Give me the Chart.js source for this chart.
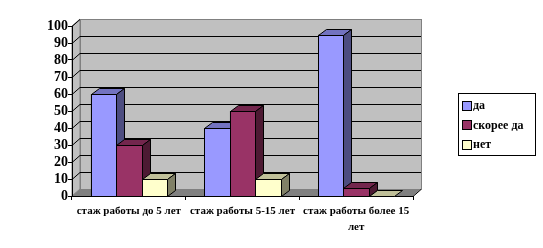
<!DOCTYPE html>
<html>
<head>
<meta charset="utf-8">
<script src="https://cdn.jsdelivr.net/npm/chart.js@4/dist/chart.umd.min.js"></script>
<style>
html,body{margin:0;padding:0;background:#fff;}
#wrap{width:543px;height:248px;position:relative;}
</style>
</head>
<body>
<div id="wrap"><canvas id="c" width="543" height="248"></canvas></div>
<script>
const categories = ['стаж работы до 5 лет', 'стаж работы 5-15 лет', ['стаж работы более 15', 'лет']];
const seriesNames = ['да', 'скорее да', 'нет'];
const valuesDa = [60, 40, 95];
const valuesSkoreeDa = [30, 50, 5];
const valuesNet = [10, 10, 0];
const yTicks = [0, 10, 20, 30, 40, 50, 60, 70, 80, 90, 100];

const fronts = ['#9999FF', '#993366', '#FFFFCC'];
const tops = ['#7373C0', '#73264D', '#C0C099'];
const sides = ['#4D4D80', '#4D1A33', '#808066'];

const FONT = "'Liberation Serif', 'Times New Roman', serif";
const WALL_DX = 8, WALL_DY = 7, BAR_DX = 8, BAR_DY = 6;

const threeD = {
  id: 'threeD',
  beforeDraw(chart) {
    const ctx = chart.ctx, ca = chart.chartArea, ys = chart.scales.y;
    const L = ca.left, R = ca.right, T = ca.top, B = ca.bottom;
    ctx.save();
    ctx.lineWidth = 1;
    ctx.fillStyle = '#C0C0C0';
    ctx.strokeStyle = '#808080';
    ctx.fillRect(L + WALL_DX, T - WALL_DY, R - L, B - T);
    ctx.strokeRect(L + WALL_DX + 0.5, T - WALL_DY + 0.5, R - L, B - T);
    ctx.beginPath();
    ctx.moveTo(L, T); ctx.lineTo(L + WALL_DX, T - WALL_DY);
    ctx.lineTo(L + WALL_DX, B - WALL_DY); ctx.lineTo(L, B); ctx.closePath();
    ctx.fill(); ctx.stroke();
    ctx.strokeStyle = '#000';
    yTicks.forEach(v => {
      if (v === 0) return;
      const y = Math.round(ys.getPixelForValue(v)) + 0.5;
      ctx.beginPath();
      ctx.moveTo(L, y);
      ctx.lineTo(L + WALL_DX, y - WALL_DY);
      if (v !== ys.max) ctx.lineTo(R + WALL_DX, y - WALL_DY);
      ctx.stroke();
    });
    ctx.fillStyle = '#808080';
    ctx.beginPath();
    ctx.moveTo(L, B); ctx.lineTo(L + WALL_DX, B - WALL_DY);
    ctx.lineTo(R + WALL_DX, B - WALL_DY); ctx.lineTo(R, B); ctx.closePath();
    ctx.fill();
    ctx.strokeStyle = '#000';
    ctx.beginPath();
    ctx.moveTo(R, B + 0.5); ctx.lineTo(R + WALL_DX, B - WALL_DY + 0.5);
    ctx.stroke();
    ctx.restore();
  },
  afterDatasetsDraw(chart) {
    const ctx = chart.ctx;
    const n = chart.data.labels.length;
    ctx.save();
    ctx.lineWidth = 1;
    ctx.strokeStyle = '#000';
    for (let i = 0; i < n; i++) {
      chart.data.datasets.forEach((ds, j) => {
        const el = chart.getDatasetMeta(j).data[i];
        const xl = Math.round(el.x - el.width / 2) + 0.5;
        const xr = Math.round(el.x + el.width / 2) + 0.5;
        const yt = Math.round(el.y) + 0.5;
        const yb = Math.round(el.base) + 0.5;
        ctx.fillStyle = fronts[j];
        if (yb - yt > 0) {
          ctx.fillRect(xl, yt, xr - xl, yb - yt);
          ctx.strokeRect(xl, yt, xr - xl, yb - yt);
        }
        ctx.fillStyle = tops[j];
        ctx.beginPath();
        ctx.moveTo(xl, yt); ctx.lineTo(xl + BAR_DX, yt - BAR_DY);
        ctx.lineTo(xr + BAR_DX, yt - BAR_DY); ctx.lineTo(xr, yt); ctx.closePath();
        ctx.fill(); ctx.stroke();
        if (yb - yt > 0) {
          ctx.fillStyle = sides[j];
          ctx.beginPath();
          ctx.moveTo(xr, yt); ctx.lineTo(xr + BAR_DX, yt - BAR_DY);
          ctx.lineTo(xr + BAR_DX, yb - BAR_DY); ctx.lineTo(xr, yb); ctx.closePath();
          ctx.fill(); ctx.stroke();
        }
      });
    }
    ctx.restore();
  },
  afterDraw(chart) {
    const ctx = chart.ctx;
    ctx.save();
    const bx = 458.5, by = 93.5, bw = 77, bh = 62;
    ctx.fillStyle = '#fff';
    ctx.strokeStyle = '#000';
    ctx.lineWidth = 1;
    ctx.fillRect(bx, by, bw, bh);
    ctx.strokeRect(bx, by, bw, bh);
    ctx.font = 'bold 12px ' + FONT;
    ctx.textBaseline = 'middle';
    chart.data.datasets.forEach((ds, j) => {
      const cy = 105 + j * 19.5;
      ctx.fillStyle = fronts[j];
      ctx.fillRect(462.5, Math.round(cy - 4.5) + 0.5, 9, 9);
      ctx.strokeRect(462.5, Math.round(cy - 4.5) + 0.5, 9, 9);
      ctx.fillStyle = '#000';
      ctx.fillText(ds.label, 473, cy + 1);
    });
    ctx.restore();
  }
};

new Chart(document.getElementById('c'), {
  type: 'bar',
  data: {
    labels: categories,
    datasets: [
      { label: seriesNames[0], data: valuesDa, backgroundColor: fronts[0], borderColor: '#000', borderWidth: 1 },
      { label: seriesNames[1], data: valuesSkoreeDa, backgroundColor: fronts[1], borderColor: '#000', borderWidth: 1 },
      { label: seriesNames[2], data: valuesNet, backgroundColor: fronts[2], borderColor: '#000', borderWidth: 1 }
    ]
  },
  options: {
    responsive: false,
    animation: false,
    devicePixelRatio: 1,
    layout: { padding: { left: 0, right: 130, top: 26, bottom: 0 } },
    datasets: { bar: { categoryPercentage: 0.67, barPercentage: 1 } },
    plugins: { legend: { display: false }, tooltip: { enabled: false } },
    scales: {
      x: {
        grid: { display: true, drawOnChartArea: false, drawTicks: true, tickLength: 4, color: '#000', offset: true },
        border: { display: true, color: '#000', width: 1 },
        ticks: { color: '#000', font: { family: FONT, size: 11, weight: 'bold', lineHeight: 1.45 }, padding: 3, maxRotation: 0, autoSkip: false },
        afterFit(s) { s.height = 52; }
      },
      y: {
        min: 0, max: 100,
        afterBuildTicks(s) { s.ticks = yTicks.map(v => ({ value: v })); },
        grid: { display: true, drawOnChartArea: false, drawTicks: true, tickLength: 4, color: '#000' },
        border: { display: true, color: '#000', width: 1 },
        ticks: { color: '#000', font: { family: FONT, size: 14, weight: 'bold' }, padding: 0, autoSkip: false },
        afterFit(s) { s.width = 72; }
      }
    }
  },
  plugins: [threeD]
});
</script>
</body>
</html>
